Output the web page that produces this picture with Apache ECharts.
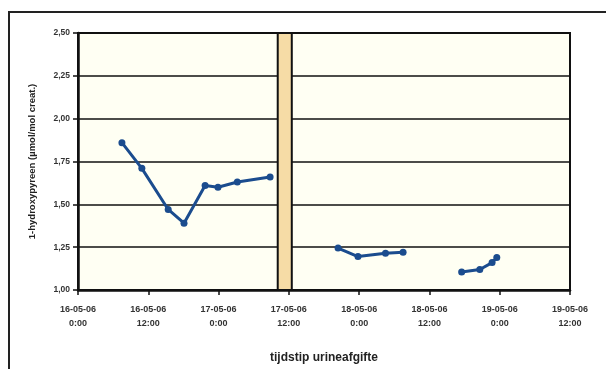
<!DOCTYPE html>
<html>
<head>
<meta charset="utf-8">
<script src="https://cdn.jsdelivr.net/npm/echarts@6/dist/echarts.min.js"></script>
<style>
  html, body { margin: 0; padding: 0; background: #ffffff; }
  #chart { width: 606px; height: 369px; }
</style>
</head>
<body>
<div id="chart"></div>
<script>
// Sampling moments, in hours after 16-05-06 0:00
const hoursA = [7.5, 10.9, 15.4, 18.1, 21.7, 23.9, 27.2, 32.8];
const valuesA = [1.86, 1.71, 1.47, 1.39, 1.61, 1.60, 1.63, 1.66];

const hoursB = [44.4, 47.8, 52.5, 55.5];
const valuesB = [1.245, 1.195, 1.215, 1.22];

const hoursC = [65.5, 68.6, 70.7, 71.5];
const valuesC = [1.105, 1.12, 1.16, 1.19];

// Tick labels on the time axis (every 12 hours)
const timeLabels = [
  '16-05-06\n0:00', '16-05-06\n12:00', '17-05-06\n0:00', '17-05-06\n12:00',
  '18-05-06\n0:00', '18-05-06\n12:00', '19-05-06\n0:00', '19-05-06\n12:00'
];

// Interruption between the two sampling periods (hours)
const breakStart = 34.1;
const breakEnd = 36.5;

const pairs = (xs, ys) => xs.map((x, i) => [x, ys[i]]);

const lineColor = '#1b4c8e';
const seriesStyle = {
  type: 'line',
  symbol: 'circle',
  symbolSize: 7,
  lineStyle: { color: lineColor, width: 3 },
  itemStyle: { color: lineColor },
  silent: true
};

const chart = echarts.init(document.getElementById('chart'));
chart.setOption({
  animation: false,
  backgroundColor: '#ffffff',
  grid: {
    left: 78, right: 36, top: 33, bottom: 79,
    show: true,
    backgroundColor: '#fffff3',
    borderColor: '#111',
    borderWidth: 2
  },
  xAxis: {
    type: 'value',
    min: 0, max: 84, interval: 12,
    name: 'tijdstip urineafgifte',
    nameLocation: 'middle',
    nameGap: 62,
    nameTextStyle: { fontFamily: 'Liberation Sans', fontWeight: 'bold', fontSize: 12, color: '#222' },
    axisLine: { show: true, lineStyle: { color: '#111', width: 2.5 } },
    axisTick: { show: true, length: 5, lineStyle: { color: '#111', width: 1.5 } },
    splitLine: { show: false },
    axisLabel: {
      fontFamily: 'Liberation Sans', fontWeight: 'bold', fontSize: 9, color: '#333',
      lineHeight: 14, margin: 13,
      formatter: v => timeLabels[Math.round(v / 12)] || ''
    }
  },
  yAxis: {
    type: 'value',
    min: 1, max: 2.5, interval: 0.25,
    name: '1-hydroxypyreen (µmol/mol creat.)',
    nameLocation: 'middle',
    nameGap: 41,
    nameTextStyle: { fontFamily: 'Liberation Sans', fontWeight: 'bold', fontSize: 9.5, color: '#222' },
    axisLine: { show: true, lineStyle: { color: '#111', width: 2.5 } },
    axisTick: { show: true, length: 5, lineStyle: { color: '#111', width: 1.5 } },
    splitLine: { show: true, lineStyle: { color: '#111', width: 1.6 } },
    axisLabel: {
      fontFamily: 'Liberation Sans', fontWeight: 'bold', fontSize: 8.5, color: '#333', margin: 8,
      formatter: v => v.toFixed(2).replace('.', ',')
    }
  },
  series: [
    Object.assign({}, seriesStyle, {
      data: pairs(hoursA, valuesA),
      markArea: {
        silent: true,
        itemStyle: { color: '#f6dca6', borderColor: '#111', borderWidth: 2 },
        data: [[{ xAxis: breakStart, yAxis: 1 }, { xAxis: breakEnd, yAxis: 2.5 }]]
      }
    }),
    Object.assign({}, seriesStyle, { data: pairs(hoursB, valuesB) }),
    Object.assign({}, seriesStyle, { data: pairs(hoursC, valuesC) })
  ],
  graphic: [
    {
      type: 'rect',
      shape: { x: 9, y: 12, width: 640, height: 400 },
      style: { fill: 'none', stroke: '#222', lineWidth: 2 },
      silent: true
    }
  ]
});
</script>
</body>
</html>
